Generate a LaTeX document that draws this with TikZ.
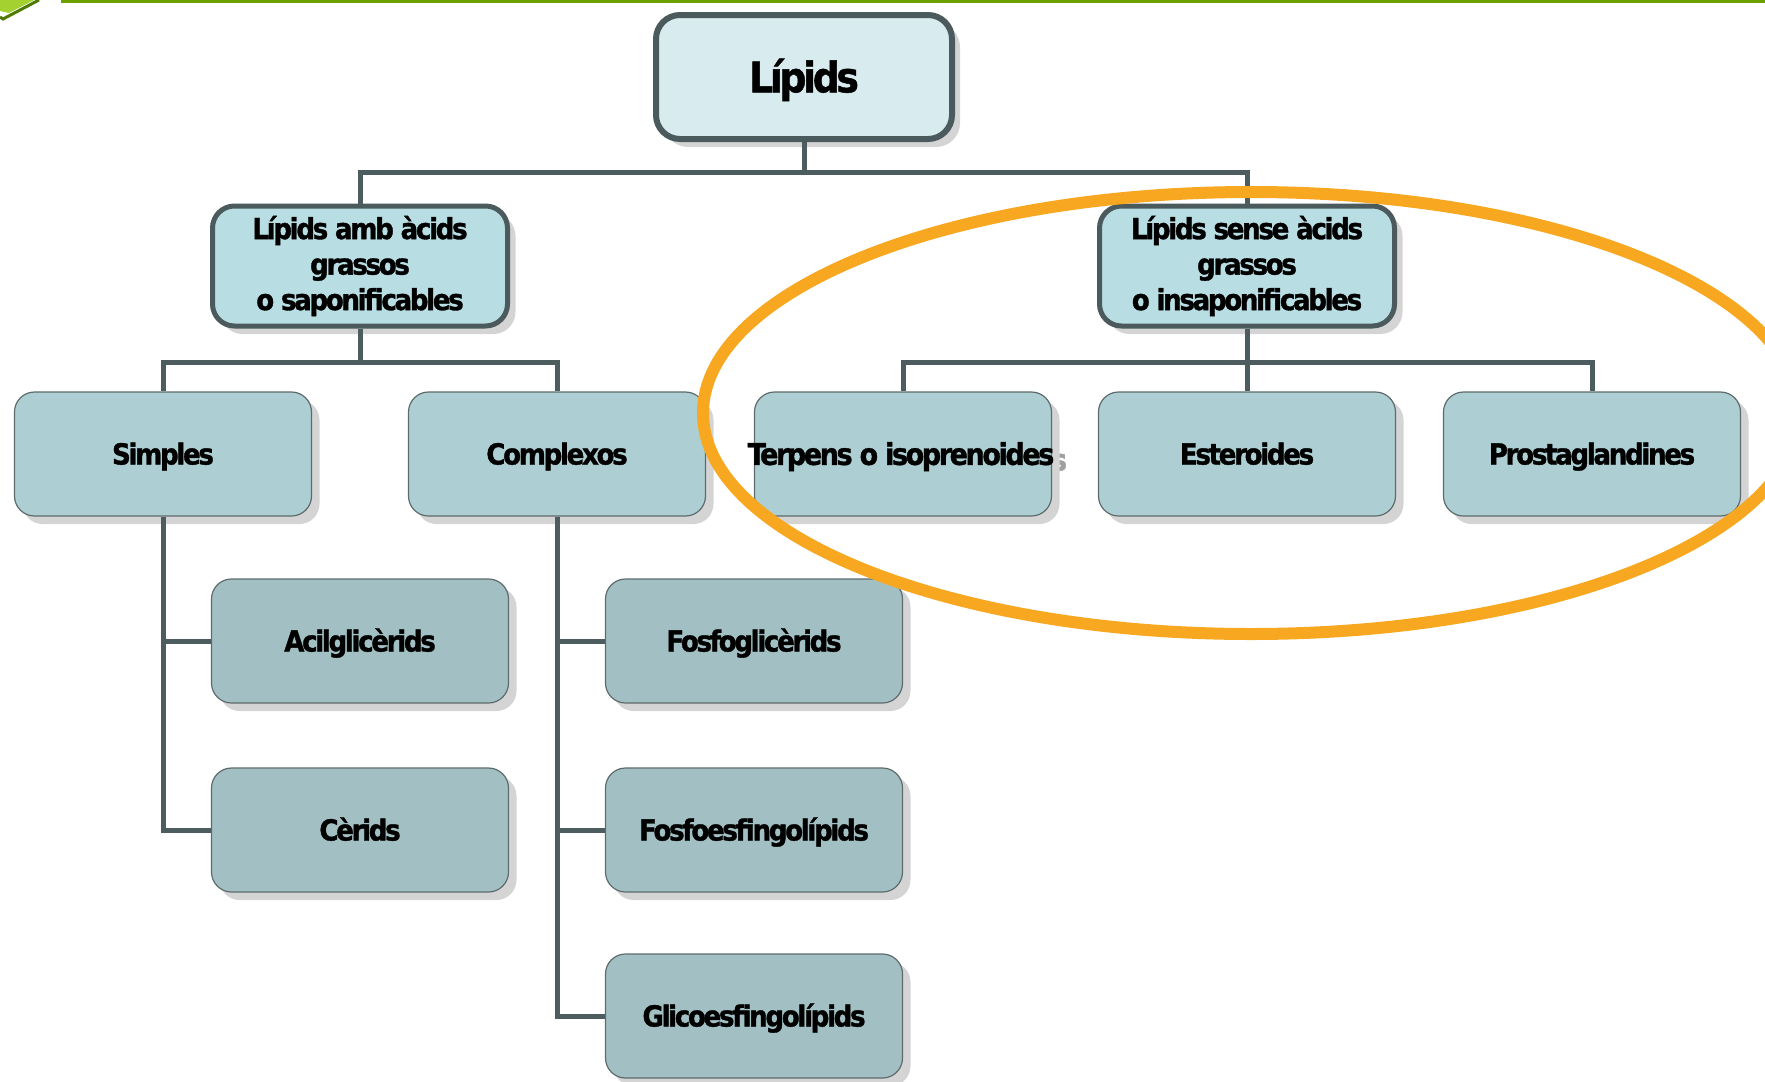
\documentclass[tikz,border=0pt]{standalone}
\usepackage{fontspec}
\usetikzlibrary{shadows}
\newfontfamily\lab{DejaVu Sans}[FakeStretch=0.9,LetterSpace=-8,FakeBold=1.2]
\definecolor{cone}{HTML}{D8ECF0}
\definecolor{ctwo}{HTML}{B8DEE3}
\definecolor{cthree}{HTML}{ADCFD3}
\definecolor{cfour}{HTML}{A2C0C3}
\definecolor{bthick}{HTML}{4B5A5C}
\definecolor{bthin}{HTML}{5E6B6C}
\definecolor{conn}{HTML}{4D5C5E}
\definecolor{ovalc}{HTML}{F8A820}
\definecolor{topgreen}{HTML}{6EA000}
\definecolor{lightgreen}{HTML}{A4D030}
\definecolor{darkgreen}{HTML}{4E7A00}
\definecolor{shad}{HTML}{D4D4D4}
\tikzset{
  shd/.style={drop shadow={shadow xshift=8pt,shadow yshift=-8pt,fill=shad,opacity=1}},
  topbox/.style={shd,rectangle,rounded corners=24pt,draw=bthick,line width=6pt,fill=cone,
    minimum width=296pt,minimum height=124pt,inner sep=0pt,
    font=\lab\bfseries\fontsize{42}{48}\selectfont,text height=30.6pt,text depth=0pt},
  midbox/.style={shd,rectangle,rounded corners=22pt,draw=bthick,line width=5pt,fill=ctwo,
    minimum width=295pt,minimum height=120pt,inner sep=0pt,align=center,
    font=\lab\bfseries\fontsize{29}{35.5}\selectfont},
  catbox/.style={shd,rectangle,rounded corners=20pt,draw=bthin,line width=1.2pt,fill=cthree,
    minimum width=297pt,minimum height=124pt,inner sep=0pt,
    font=\lab\bfseries\fontsize{29}{35}\selectfont,text height=21pt,text depth=0pt},
  subbox/.style={catbox,fill=cfour},
  link/.style={draw=conn,line width=5pt}
}
\begin{document}
\begin{tikzpicture}[x=1pt,y=-1pt]
\useasboundingbox (0,0) rectangle (1765,1082);
% top decoration
\fill[topgreen] (61,0) rectangle (1765,3);
\fill[lightgreen] (0,0) -- (34,0) -- (9,13) -- (0,11) -- cycle;
\draw[darkgreen,line width=3pt] (39,0) -- (3,19) -- (0,17);
% nodes
\node[topbox] (lipids) at (804,77) {Lípids};
\node[midbox] (amb) at (360,266) {Lípids amb àcids\\grassos\\o saponificables};
\node[midbox] (sense) at (1247,266) {Lípids sense àcids\\grassos\\o insaponificables};
\node[catbox] (simples) at (163,454) {Simples};
\node[catbox] (complexos) at (557,454) {Complexos};
\node[font=\lab\bfseries\fontsize{30}{35}\selectfont,text=gray!75,text height=21pt,text depth=0pt,inner sep=0pt] (tshadow) at (1059,460) {s};
\node[catbox] (terpens) at (903,454) {};
\node[font=\lab\bfseries\fontsize{30}{35}\selectfont,text height=21.8pt,text depth=0pt,inner sep=0pt] (terpenstext) at (901,454) {Terpens o isoprenoides};
\node[catbox] (esteroides) at (1247,454) {Esteroides};
\node[catbox] (prosta) at (1592,454) {Prostaglandines};
\node[subbox] (acil) at (360,641) {Acilglicèrids};
\node[subbox] (cerids) at (360,830) {Cèrids};
\node[subbox] (fosfogli) at (754,641) {Fosfoglicèrids};
\node[subbox] (fosfoes) at (754,830) {Fosfoesfingolípids};
\node[subbox] (glico) at (754,1016) {Glicoesfingolípids};
% junctions
\coordinate (j1) at (804,172);
\coordinate (j2) at (360,362);
\coordinate (j3) at (1247,362);
% connectors
\draw[link] (lipids.south) -- (j1);
\draw[link] (amb.north) |- (j1) -| (sense.north);
\draw[link] (amb.south) -- (j2);
\draw[link] (simples.north) |- (j2) -| (complexos.north);
\draw[link] (sense.south) -- (esteroides.north);
\draw[link] (terpens.north) |- (j3) -| (prosta.north);
\draw[link] (simples.south) |- (acil.west);
\draw[link] (simples.south) |- (cerids.west);
\draw[link] (complexos.south) |- (fosfogli.west);
\draw[link] (complexos.south) |- (fosfoes.west);
\draw[link] (complexos.south) |- (glico.west);
% highlight oval
\draw[ovalc,line width=12pt] (1251,413) ellipse [x radius=548,y radius=221];
\end{tikzpicture}
\end{document}
